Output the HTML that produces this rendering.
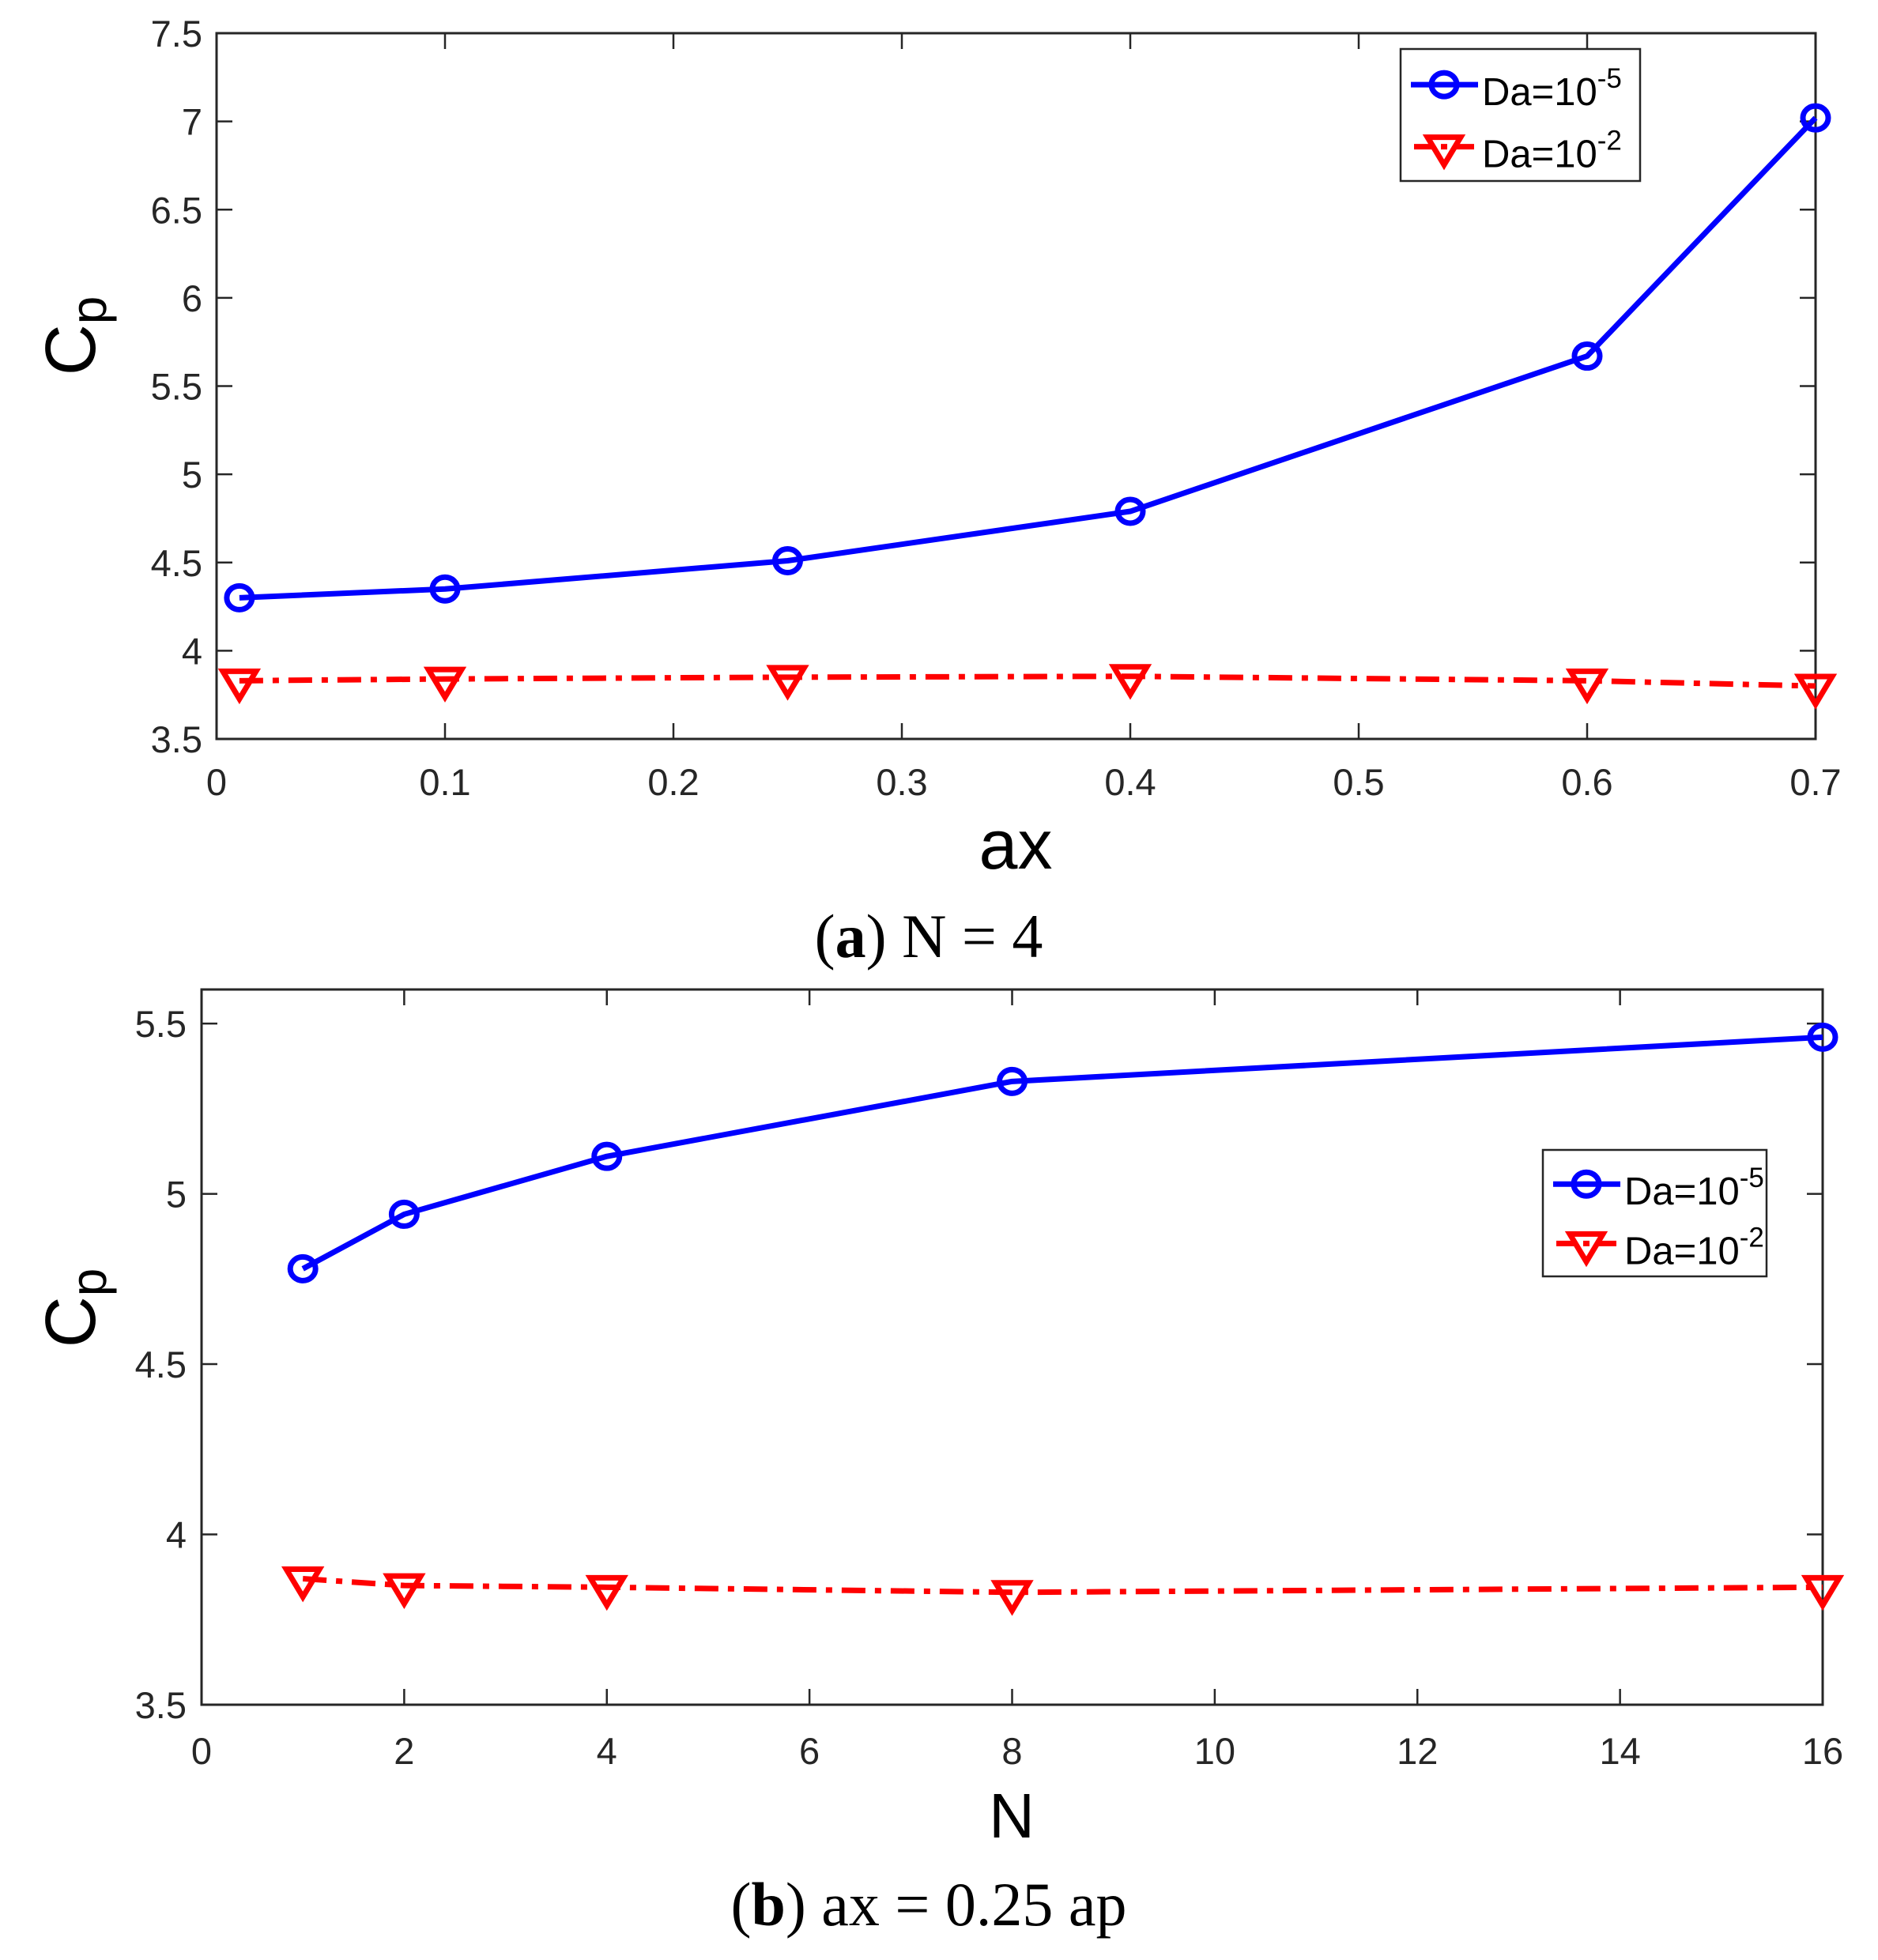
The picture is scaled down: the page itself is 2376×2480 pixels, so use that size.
<!DOCTYPE html>
<html><head><meta charset="utf-8"><style>
html,body{margin:0;padding:0;background:#fff;}
svg{display:block;}
</style></head><body>
<svg id="s" xmlns="http://www.w3.org/2000/svg" width="2376" height="2480" viewBox="0 0 2376 2480">
<rect width="2376" height="2480" fill="#fff"/>
</svg>
<script>
var S=document.getElementById('s'),NS='http://www.w3.org/2000/svg';
function el(t,a,txt){var e=document.createElementNS(NS,t);for(var k in a)e.setAttribute(k,a[k]);if(txt!==undefined)e.textContent=txt;S.appendChild(e);return e;}
function plot(o){
 var X=function(v){return o.l+(v-o.x0)/(o.x1-o.x0)*(o.r-o.l);};
 var Y=function(v){return o.b-(v-o.y0)/(o.y1-o.y0)*(o.b-o.t);};
 o.xt.forEach(function(v){var x=X(v);
  el('line',{x1:x,y1:o.b,x2:x,y2:o.b-20,stroke:'#262626','stroke-width':2.5});
  el('line',{x1:x,y1:o.t,x2:x,y2:o.t+20,stroke:'#262626','stroke-width':2.5});
  el('text',{x:x,y:o.xly,'text-anchor':'middle','font-family':'Liberation Sans, sans-serif','font-size':47,fill:'#262626'},String(v));});
 o.yt.forEach(function(v){var y=Y(v);
  el('line',{x1:o.l,y1:y,x2:o.l+20,y2:y,stroke:'#262626','stroke-width':2.5});
  el('line',{x1:o.r,y1:y,x2:o.r-20,y2:y,stroke:'#262626','stroke-width':2.5});
  el('text',{x:o.yrx,y:y+17,'text-anchor':'end','font-family':'Liberation Sans, sans-serif','font-size':47,fill:'#262626'},o.yf(v));});
 el('rect',{x:o.l,y:o.t,width:o.r-o.l,height:o.b-o.t,fill:'none',stroke:'#262626','stroke-width':3});
 var pb=o.blue.map(function(p){return X(p[0])+','+Y(p[1]);}).join(' ');
 el('polyline',{points:pb,fill:'none',stroke:'#0000ff','stroke-width':7,'stroke-linejoin':'round'});
 o.blue.forEach(function(p){el('ellipse',{cx:X(p[0]),cy:Y(p[1]),rx:16,ry:15,fill:'none',stroke:'#0000ff','stroke-width':7});});
 var pr=o.red.map(function(p){return X(p[0])+','+Y(p[1]);}).join(' ');
 el('polyline',{points:pr,fill:'none',stroke:'#ff0000','stroke-width':7,'stroke-dasharray':'30 12 8 12'});
 o.red.forEach(function(p){var x=X(p[0]),y=Y(p[1]);
  el('polygon',{points:(x-21)+','+(y-12)+' '+(x+21)+','+(y-12)+' '+x+','+(y+23),fill:'none',stroke:'#ff0000','stroke-width':7,'stroke-linejoin':'miter'});});
 var L=o.leg;
 el('rect',{x:L.x,y:L.y,width:L.w,height:L.h,fill:'#fff',stroke:'#262626','stroke-width':2.5});
 var r1=L.y+L.h*0.27,r2=L.y+L.h*0.74;
 el('line',{x1:L.x+13,y1:r1,x2:L.x+98,y2:r1,stroke:'#0000ff','stroke-width':7});
 el('ellipse',{cx:L.x+55,cy:r1,rx:16,ry:15,fill:'none',stroke:'#0000ff','stroke-width':7});
 el('line',{x1:L.x+17,y1:r2,x2:L.x+95,y2:r2,stroke:'#ff0000','stroke-width':7,'stroke-dasharray':'24 10 8 10'});
 var cx=L.x+55;el('polygon',{points:(cx-21)+','+(r2-12)+' '+(cx+21)+','+(r2-12)+' '+cx+','+(r2+23),fill:'none',stroke:'#ff0000','stroke-width':7});
 [[r1,'-5'],[r2,'-2']].forEach(function(q){
  var t=el('text',{x:L.x+103,y:q[0]+26,'font-family':'Liberation Sans, sans-serif','font-size':49,fill:'#000'});
  t.textContent='Da=10';
  var ts=document.createElementNS(NS,'tspan');ts.setAttribute('dy','-22');ts.setAttribute('font-size','35');ts.textContent=q[1];t.appendChild(ts);});
 el('text',{x:o.xlx,y:o.xlyy,'text-anchor':'middle','font-family':'Liberation Sans, sans-serif','font-size':o.xls,fill:'#000'},o.xlab);
 var g=el('text',{transform:'translate('+o.cpx+','+o.cpy+') rotate(-90)','text-anchor':'middle','font-family':'Liberation Sans, sans-serif','font-size':90,fill:'#000'});
 g.textContent='C';var ts=document.createElementNS(NS,'tspan');ts.setAttribute('dy','14');ts.setAttribute('font-size','64');ts.textContent='p';g.appendChild(ts);
}
plot({l:274,r:2297,t:42,b:935,x0:0,x1:0.7,y0:3.5,y1:7.5,
 xt:[0,0.1,0.2,0.3,0.4,0.5,0.6,0.7],yt:[3.5,4,4.5,5,5.5,6,6.5,7,7.5],
 yf:function(v){return String(v);},xly:1006,yrx:256,
 blue:[[0.01,4.3],[0.1,4.35],[0.25,4.51],[0.4,4.79],[0.6,5.67],[0.7,7.02]],
 red:[[0.01,3.83],[0.1,3.84],[0.25,3.85],[0.4,3.855],[0.6,3.83],[0.7,3.8]],
 leg:{x:1772,y:62,w:303,h:167},xlab:'ax',xlx:1285,xlyy:1099,xls:88,cpx:120,cpy:425});
plot({l:255,r:2306,t:1252,b:2157,x0:0,x1:16,y0:3.5,y1:5.6,
 xt:[0,2,4,6,8,10,12,14,16],yt:[3.5,4,4.5,5,5.5],
 yf:function(v){return String(v);},xly:2232,yrx:236,
 blue:[[1,4.78],[2,4.94],[4,5.11],[8,5.33],[16,5.46]],
 red:[[1,3.87],[2,3.85],[4,3.845],[8,3.83],[16,3.845]],
 leg:{x:1952,y:1455,w:283,h:160},xlab:'N',xlx:1280,xlyy:2325,xls:80,cpx:120,cpy:1655});
function cap(y,b,rest){var t=el('text',{x:1175,y:y,'text-anchor':'middle','font-family':'Liberation Serif, serif','font-size':78,fill:'#000'});
 t.appendChild(document.createTextNode('('));var s=document.createElementNS(NS,'tspan');s.setAttribute('font-weight','bold');s.textContent=b;t.appendChild(s);
 t.appendChild(document.createTextNode(') '+rest));}
cap(1211,'a','N = 4');cap(2436,'b','ax = 0.25 ap');
</script>
</body></html>
